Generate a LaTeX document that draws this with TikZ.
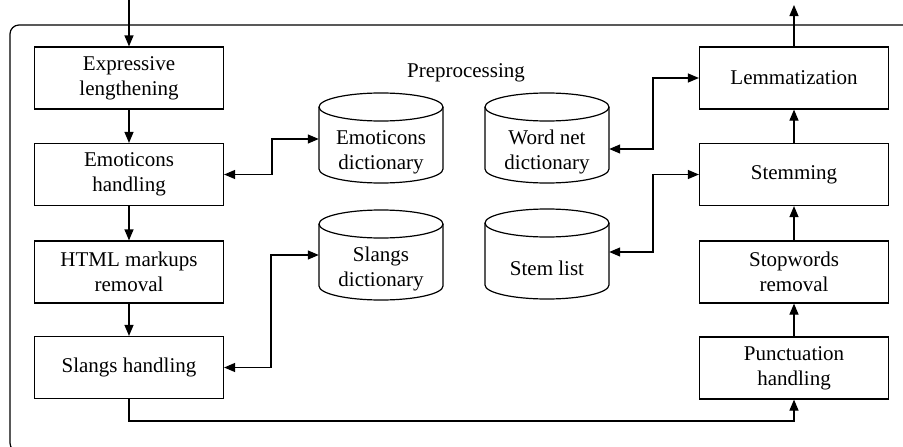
\documentclass[tikz,border=0pt]{standalone}
\usepackage{fontspec}
\setmainfont{Liberation Serif}
\usetikzlibrary{arrows.meta}
\newcommand\dbcyl[4]{% name, cx, top, text
  \draw[line] (#2-62,#3+14) -- (#2-62,#3+76) arc[start angle=180, end angle=360, x radius=62pt, y radius=14pt] -- (#2+62,#3+14);
  \draw[line] (#2,#3+14) ellipse[x radius=62pt, y radius=14pt];
  \node[minimum width=124pt, minimum height=90pt, inner sep=0pt] (#1) at (#2,#3+45) {};
  \node at (#2,#3+59) {#4};
}
\begin{document}
\begin{tikzpicture}[x=1pt,y=-1pt,
  every node/.style={font=\fontsize{21}{25}\selectfont, align=center},
  line/.style={line width=1.2pt},
  box/.style={draw, line width=1.2pt, minimum width=189pt, minimum height=62pt, inner sep=0pt},
  tip/.style={line, -{Triangle[length=11pt,width=9pt]}},
  dtip/.style={line, {Triangle[length=11pt,width=9pt]}-{Triangle[length=11pt,width=9pt]}}]
\clip (0,0) rectangle (903,447);
\draw[line, rounded corners=9pt] (920,25) -- (10,25) -- (10,452) -- (920,452);

\node[box] (expr) at (129,78) {Expressive\\lengthening};
\node[box] (emoh) at (129,174.5) {Emoticons\\handling};
\node[box] (html) at (129,272) {HTML markups\\removal};
\node[box] (slh) at (129,367.5) {Slangs handling};

\node[box] (lemm) at (794,78) {Lemmatization};
\node[box] (stem) at (794,174.5) {Stemming};
\node[box] (stop) at (794,272) {Stopwords\\removal};
\node[box] (punc) at (794,368) {Punctuation\\handling};

\node (pre) at (466,73) {Preprocessing};

\dbcyl{emod}{381}{93}{Emoticons\\dictionary}
\dbcyl{sld}{381}{210}{Slangs\\dictionary}
\dbcyl{wnd}{547}{93}{Word net\\dictionary}
\dbcyl{stl}{547}{209}{Stem list}

\coordinate (in) at (129,0);
\coordinate (out) at (794,5);
\draw[tip] (in) -- (expr.north);
\draw[tip] (expr) -- (emoh);
\draw[tip] (emoh) -- (html);
\draw[tip] (html) -- (slh);
\draw[tip] (punc) -- (stop);
\draw[tip] (stop) -- (stem);
\draw[tip] (stem) -- (lemm);
\draw[tip] (lemm.north) -- (out);
\draw[tip] (slh.south) -- (129,421) -| (punc.south);

\draw[dtip] (emoh.east) -- (272,174.5) |- (emod.west |- 0,139);
\draw[dtip] (slh.east) -- (271,367.5) |- (sld.west);
\draw[dtip] (wnd.east |- 0,149) -- (653,149) |- (lemm.west);
\draw[dtip] (stl.east |- 0,252) -- (653,252) |- (stem.west);
\end{tikzpicture}
\end{document}
